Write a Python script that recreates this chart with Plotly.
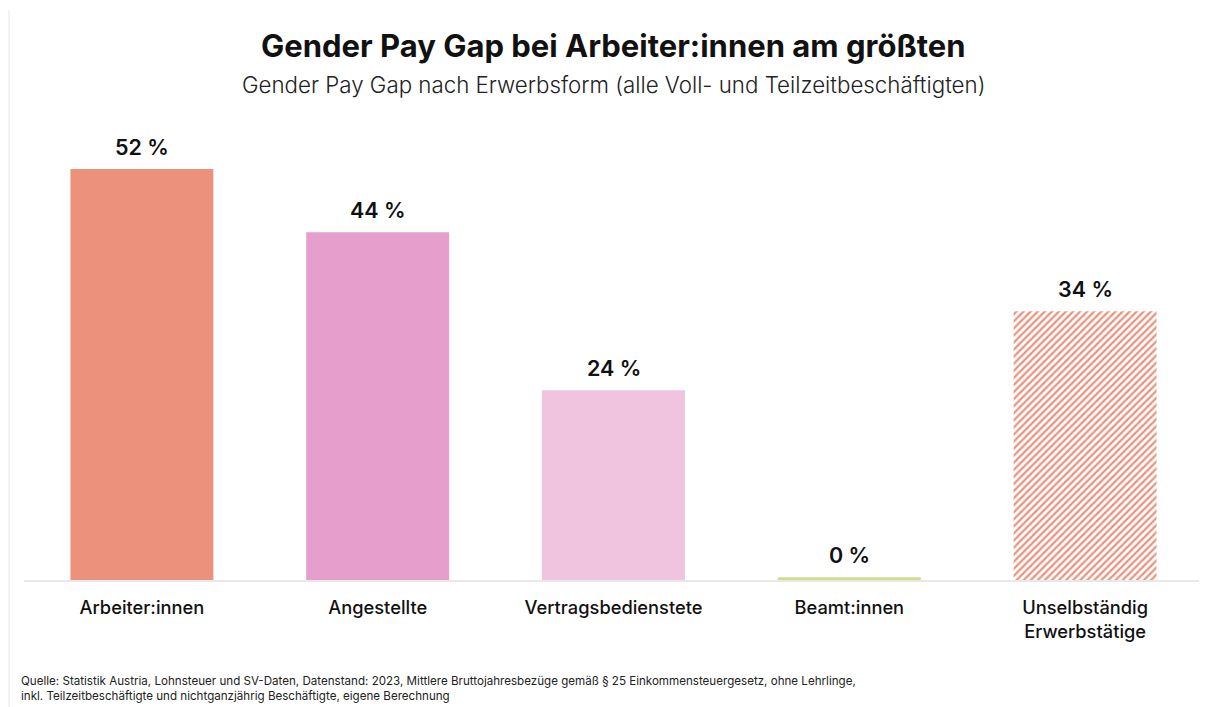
import plotly.graph_objects as go

categories = ["Arbeiter:innen", "Angestellte", "Vertragsbedienstete", "Beamt:innen", "Unselbständig<br>Erwerbstätige"]
gap_values = [52, 44, 24, 0.35, 34]
gap_labels = ["52 %", "44 %", "24 %", "0 %", "34 %"]
bar_colors = ["#EC917C", "#E69ECC", "#F0C3DF", "#CDDF8B"]
hatch_color = "#EC917C"

FONT = "Inter"

# figure geometry (page body has an 8px offset)
W, H = 1199, 699
ml, mr, mt, mb = 16, 4, 101, 127
pw, ph = W - ml - mr, H - mt - mb


def px_x(x):
    return (x - ml) / pw


def px_y(y):
    return (H - mb - y) / ph


label_font = dict(family=FONT, size=21.5, color="#111111", weight=600)

fig = go.Figure()
fig.add_trace(go.Bar(
    x=categories[:4], y=gap_values[:4],
    marker=dict(color=bar_colors, line=dict(width=0)),
    hoverinfo="skip",
))
fig.add_trace(go.Bar(
    x=categories[4:], y=gap_values[4:],
    marker=dict(color="#FFFFFF", line=dict(width=0),
                pattern=dict(shape="/", fgcolor=hatch_color, bgcolor="#FFFFFF",
                             fillmode="replace", size=5, solidity=0.45)),
    hoverinfo="skip",
))

annotations = [
    dict(text=lab, x=cat, y=val, xref="x", yref="y", xanchor="center", yanchor="bottom",
         yshift=7, showarrow=False, font=label_font)
    for cat, val, lab in zip(categories, gap_values, gap_labels)
]
annotations += [
    dict(text="<b>Gender Pay Gap bei Arbeiter:innen am größten</b>", x=px_x(605), y=px_y(37),
         xref="paper", yref="paper", xanchor="center", yanchor="middle",
         showarrow=False, font=dict(family=FONT, size=31, color="#111111")),
    dict(text="Gender Pay Gap nach Erwerbsform (alle Voll- und Teilzeitbeschäftigten)",
         x=px_x(605), y=px_y(76), xref="paper", yref="paper", xanchor="center", yanchor="middle",
         showarrow=False, font=dict(family=FONT, size=22.3, color="#222222", weight=300)),
    dict(text="Quelle: Statistik Austria, Lohnsteuer und SV-Daten, Datenstand: 2023, Mittlere Bruttojahresbezüge gemäß § 25 Einkommensteuergesetz, ohne Lehrlinge,<br>inkl. Teilzeitbeschäftigte und nichtganzjährig Beschäftigte, eigene Berechnung",
         x=px_x(11), y=px_y(680), xref="paper", yref="paper", xanchor="left", yanchor="middle",
         align="left", showarrow=False, font=dict(family=FONT, size=11.6, color="#222222")),
]

fig.update_layout(
    width=W, height=H,
    paper_bgcolor="white", plot_bgcolor="white",
    margin=dict(l=ml, r=mr, t=mt, b=mb),
    barmode="overlay",
    bargap=0.394,
    showlegend=False,
    font=dict(family=FONT, color="#111111"),
    xaxis=dict(
        showgrid=False, showline=True, linecolor="#E8E8E8", linewidth=1.5,
        ticks="", tickfont=dict(family=FONT, size=18.3, color="#111111", weight=500),
        ticklabelstandoff=10, fixedrange=True,
        categoryorder="array", categoryarray=categories,
    ),
    yaxis=dict(range=[0, 59.6], visible=False, fixedrange=True),
    annotations=annotations,
)

fig.add_shape(type="line", xref="paper", yref="paper", x0=px_x(1), x1=px_x(1),
              y0=px_y(H), y1=px_y(2), line=dict(color="#E6E6E6", width=1))

fig.write_html("out.html")
